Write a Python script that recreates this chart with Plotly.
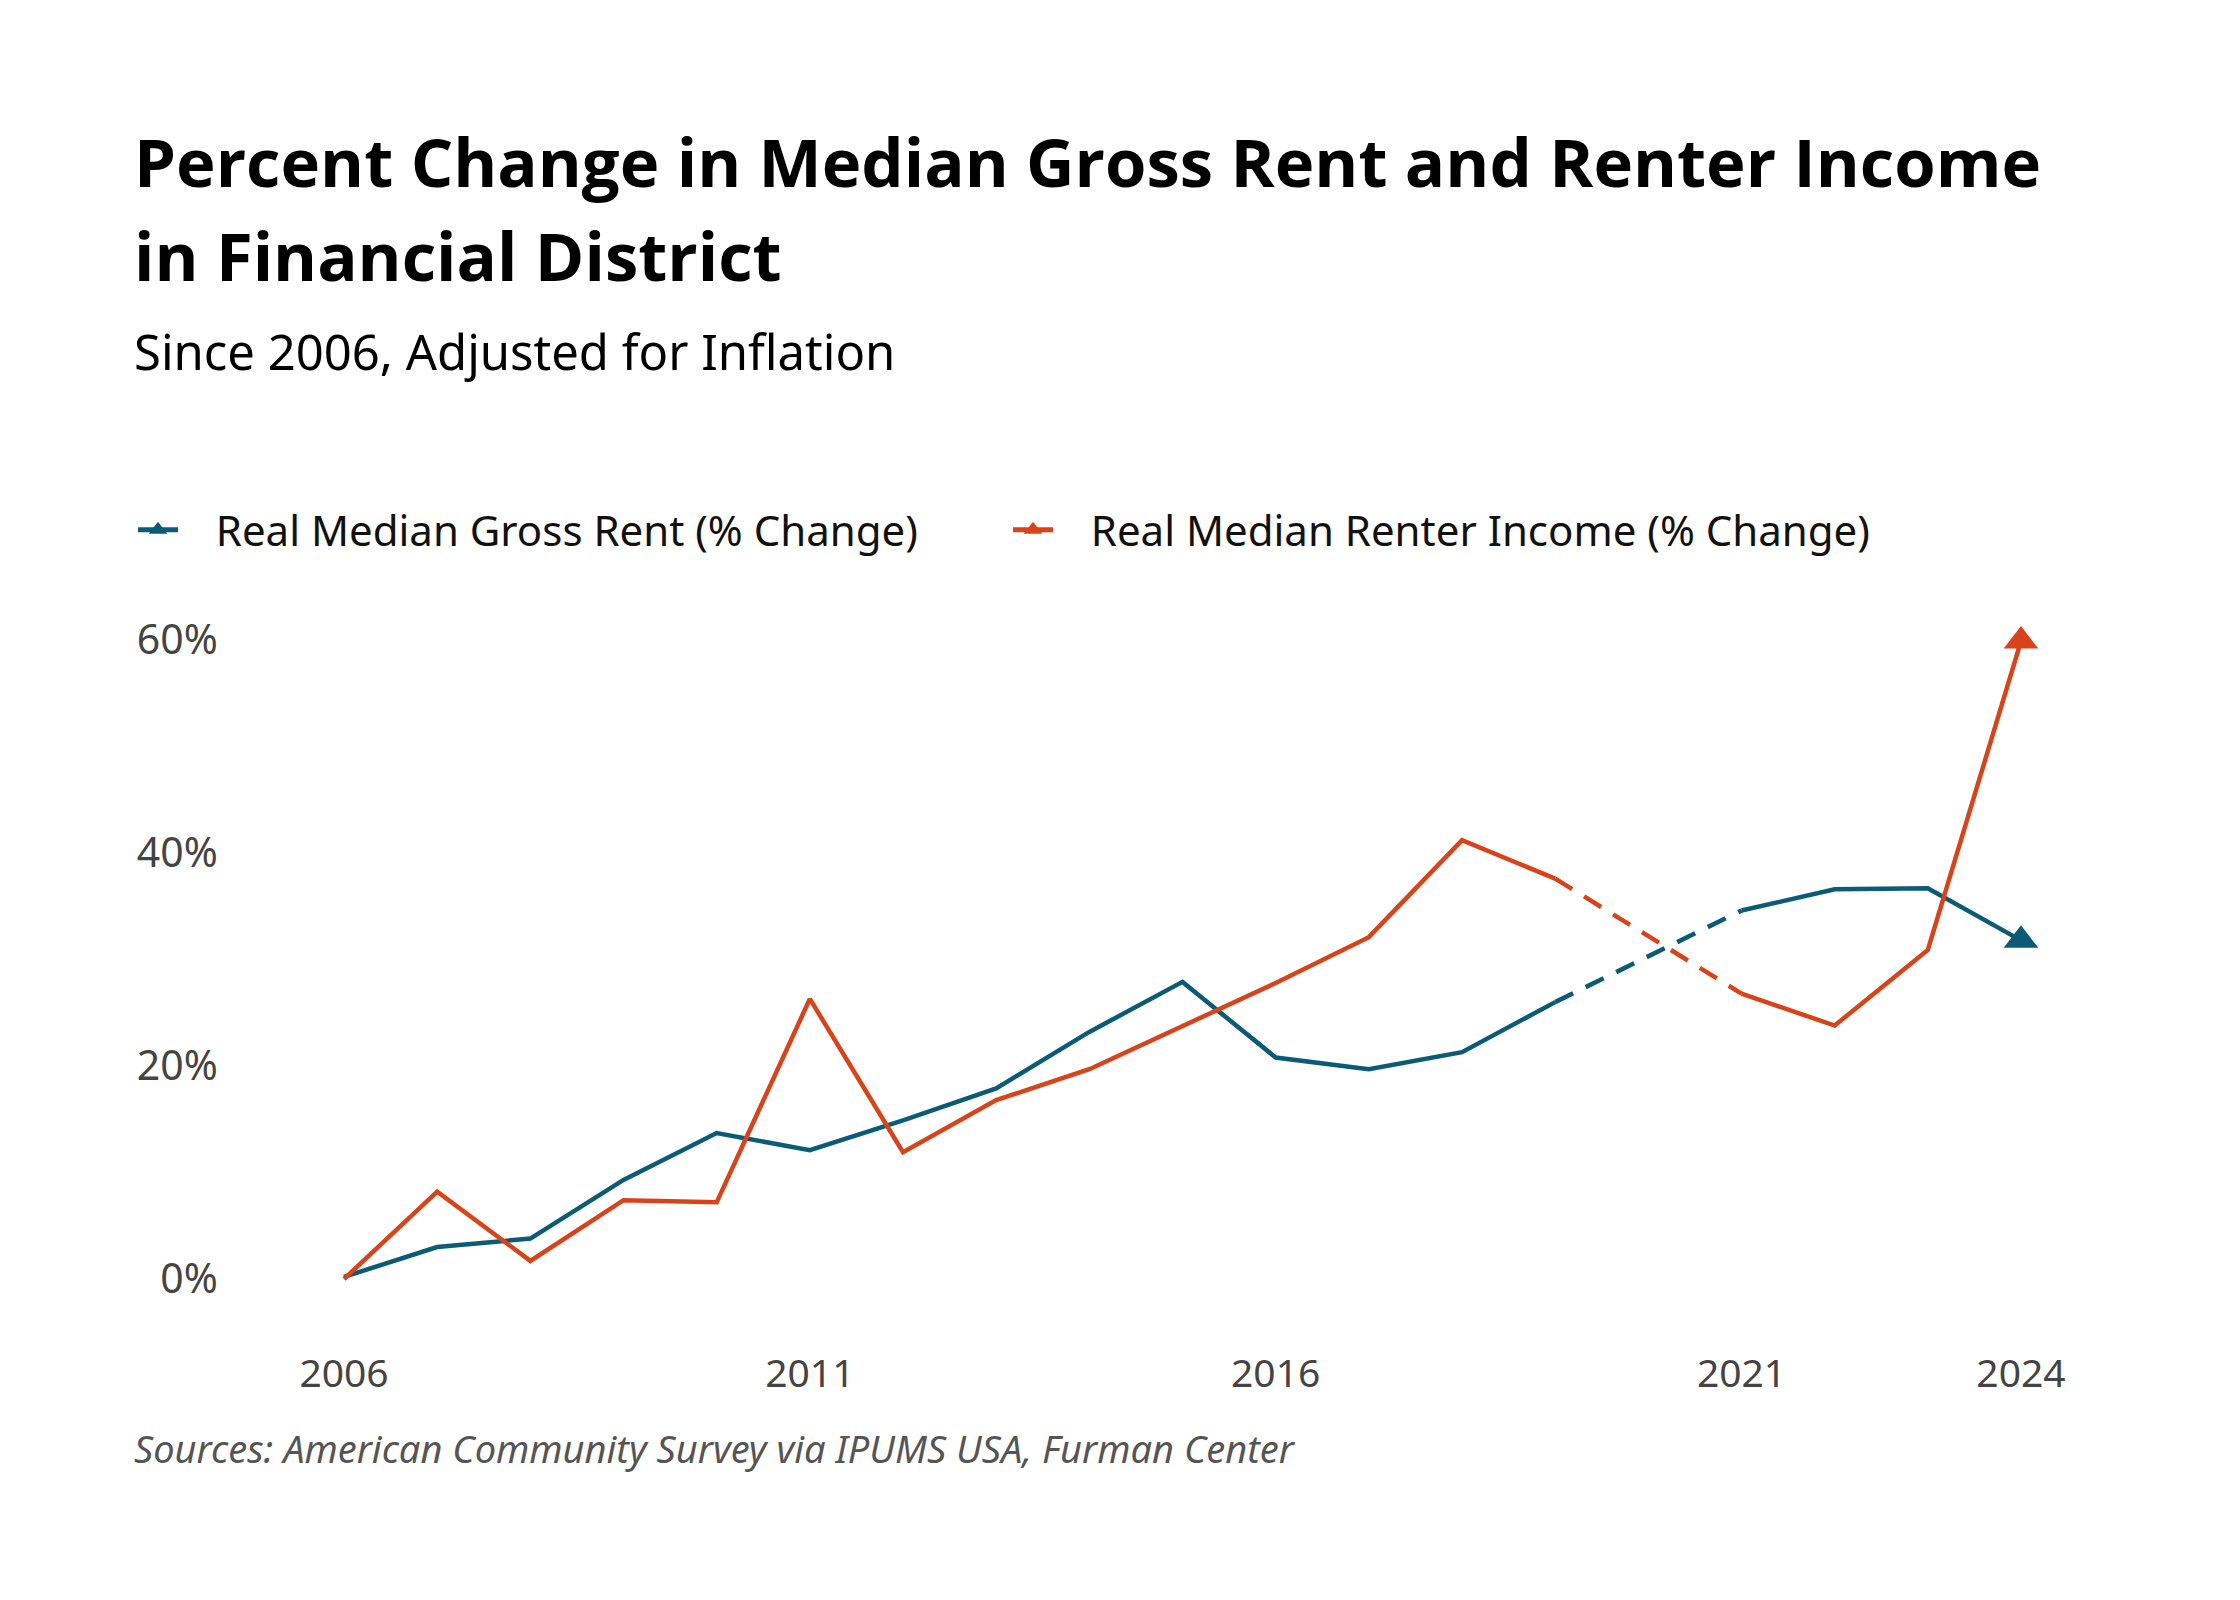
from plotly import graph_objects

years = list(range(2006, 2025))
# 2020 has no survey estimate, so the line is dashed from 2019 to 2021
rent_change = [0.2, 3.0, 3.8, 9.3, 13.7, 12.1, 14.9, 17.9, 23.2, 27.9,
               20.8, 19.7, 21.3, 26.0, None, 34.6, 36.6, 36.7, 31.8]
income_change = [0.0, 8.2, 1.7, 7.4, 7.2, 26.3, 11.9, 16.8, 19.7, 23.8,
                 27.8, 32.1, 41.2, 37.6, None, 26.8, 23.8, 30.9, 59.9]
x_ticks = [2006, 2011, 2016, 2021, 2024]
y_ticks = [0, 20, 40, 60]
y_tick_labels = ["0%", "20%", "40%", "60%"]

rent_name = "Real Median Gross Rent (% Change)"
income_name = "Real Median Renter Income (% Change)"
rent_color = "#0b5b76"
income_color = "#d9431a"

title_font = "Open Sans"
body_font = "Noto Sans"

# plot area in pixels, used to place the text blocks outside it
plot_left, plot_right, plot_top, plot_bottom = 230, 2100, 600, 1330
plot_w = plot_right - plot_left
plot_h = plot_bottom - plot_top


def px_x(px):
    return (px - plot_left) / plot_w


def px_y(py):
    return (plot_bottom - py) / plot_h


def gap_ends(values):
    # the two known points around the missing year
    i = values.index(None)
    return [years[i - 1], years[i + 1]], [values[i - 1], values[i + 1]]


fig = graph_objects.Figure()
for name, values, color in [(rent_name, rent_change, rent_color),
                            (income_name, income_change, income_color)]:
    fig.add_trace(graph_objects.Scatter(
        x=years, y=values, mode="lines", connectgaps=False,
        line=dict(color=color, width=4.5), showlegend=False, hoverinfo="skip"))
    gx, gy = gap_ends(values)
    fig.add_trace(graph_objects.Scatter(
        x=gx, y=gy, mode="lines",
        line=dict(color=color, width=4.5, dash="20px,14px"),
        showlegend=False, hoverinfo="skip"))
    fig.add_trace(graph_objects.Scatter(
        x=[years[-1]], y=[values[-1]], mode="lines+markers",
        name="&nbsp;&nbsp;&nbsp;" + name,
        line=dict(color=color, width=5),
        marker=dict(symbol="triangle-up", size=30, color=color)))

fig.update_layout(
    width=2240, height=1600,
    paper_bgcolor="white", plot_bgcolor="white",
    margin=dict(l=plot_left, r=2240 - plot_right, t=plot_top, b=1600 - plot_bottom),
    font=dict(family=body_font, color="#111111"),
    showlegend=True,
    legend=dict(orientation="h", x=125 / 2240, xref="container",
                y=1 - 488 / 1600, yref="container",
                xanchor="left", yanchor="top",
                font=dict(family=body_font, size=42, color="#111111"),
                entrywidth=820, itemwidth=40),
)

fig.update_xaxes(range=[2004.862, 2024.934], tickvals=x_ticks,
                 ticktext=[str(v) for v in x_ticks],
                 showgrid=False, zeroline=False, showline=False,
                 ticks="outside", ticklen=1, tickcolor="white",
                 tickfont=dict(family=body_font, size=39, color="#444444"))
fig.update_yaxes(range=[-5.54, 63.01], tickvals=y_ticks, ticktext=y_tick_labels,
                 showgrid=False, zeroline=False, showline=False,
                 ticks="outside", ticklen=11, tickcolor="white",
                 tickfont=dict(family=body_font, size=41, color="#444444"))

title_lines = ["Percent Change in Median Gross Rent and Renter Income",
               "in Financial District"]
for line, top in zip(title_lines, [105, 199]):
    fig.add_annotation(
        text="<b>" + line + "</b>",
        xref="paper", yref="paper", x=px_x(124), y=px_y(top),
        xanchor="left", yanchor="top", align="left", showarrow=False,
        font=dict(family=title_font, size=67, color="#000000"))
fig.add_annotation(
    text="Since 2006, Adjusted for Inflation",
    xref="paper", yref="paper", x=px_x(124), y=px_y(343),
    xanchor="left", yanchor="middle", align="left", showarrow=False,
    font=dict(family=body_font, size=49, color="#000000"))
fig.add_annotation(
    text="<i>Sources: American Community Survey via IPUMS USA, Furman Center</i>",
    xref="paper", yref="paper", x=px_x(124), y=px_y(1440),
    xanchor="left", yanchor="middle", align="left", showarrow=False,
    font=dict(family=body_font, size=38, color="#555555"))

fig.write_html("out.html")
